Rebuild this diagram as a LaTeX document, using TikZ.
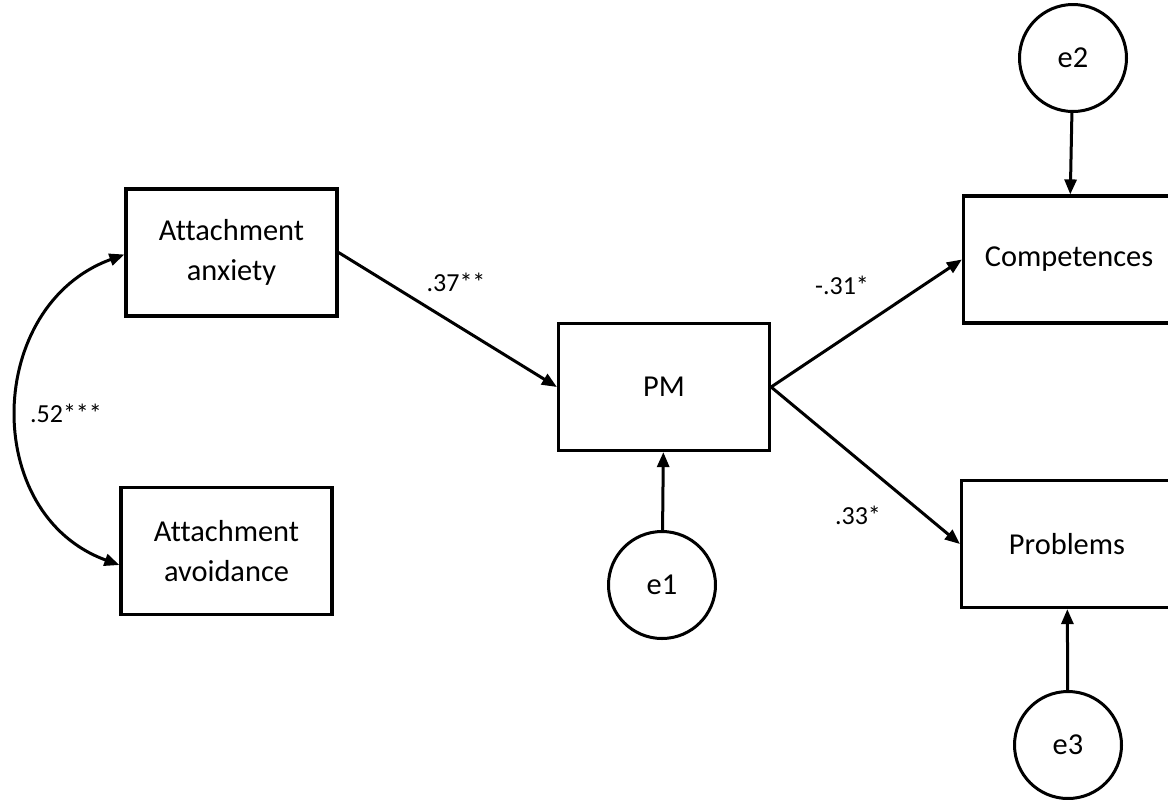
\documentclass[tikz,border=0pt]{standalone}
\usepackage{fontspec}
\setmainfont[Ligatures=NoCommon]{Carlito}
\usetikzlibrary{arrows.meta, positioning}

\begin{document}
\begin{tikzpicture}[
  x=0.5pt, y=-0.5pt,
  every node/.style={font=\fontsize{15.2}{20}\selectfont},
  var/.style={rectangle, draw, line width=1.6pt, minimum width=105.5pt, minimum height=63.5pt, align=center},
  err/.style={circle, draw, line width=1.5pt, minimum size=53.5pt, inner sep=0pt},
  link/.style={line width=1.5pt, -{Triangle[length=7.5pt, width=6pt]}},
  coef/.style={font=\fontsize{13}{15}\selectfont},
]
\useasboundingbox (0,0) rectangle (1168,799);

\node[var] (anx) at (231.5, 252.5) {Attachment\\anxiety};
\node[var] (avo) at (226.5, 551) {Attachment\\avoidance};
\node[var] (pm) at (664, 387) {PM};
\node[var] (comp) at (1069, 259.5) {Competences};
\node[var] (prob) at (1067, 544) {Problems};

\node[err] (e1) at (662, 585) {e1};
\node[err] (e2) at (1073, 58) {e2};
\node[err] (e3) at (1068, 745) {e3};

% Paths
\draw[link] (anx.east) -- (pm.west);
\draw[link] (pm.east) -- (comp.west);
\draw[link] (pm.east) -- (prob.west);

% Residuals
\draw[link] (e1) -- (pm);
\draw[link] (e2) -- (comp);
\draw[link] (e3) -- (prob);

% Covariance
\draw[line width=1.5pt, {Triangle[length=7.5pt, width=6pt]}-{Triangle[length=7.5pt, width=6pt]}]
  ([yshift=-1pt]anx.west) to[out=200, in=160, looseness=1.22] ([yshift=-7pt]avo.west);

% Coefficients
\node[coef] (c1) at (456, 282) {.37**};
\node[coef] (c2) at (842, 285) {-.31*};
\node[coef] (c3) at (858, 515) {.33*};
\node[coef] (c4) at (66, 413) {.52***};

\end{tikzpicture}
\end{document}
